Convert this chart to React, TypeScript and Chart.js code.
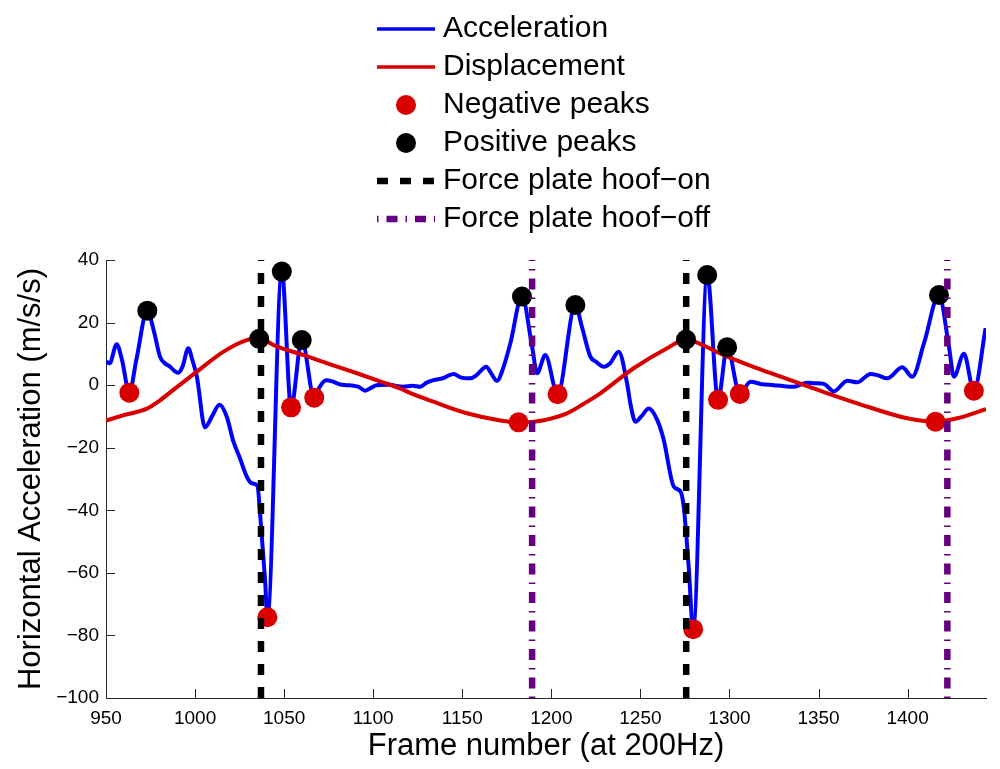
import { useEffect, useRef } from "react";
import { Chart, registerables } from "chart.js";
Chart.register(...registerables);

// frame range and acceleration range of the axes
const xLimits = [950, 1444];
const yLimits = [-100, 40];

// horizontal acceleration (m/s/s)
const accFrames = [
  950, 952, 956, 959, 963.1, 967, 973.2, 977, 980.3, 983, 986, 988.5, 990.6, 993, 996.2,
  998.5, 1001, 1005.6, 1009.5, 1013.7, 1017.8, 1021.5, 1025.3, 1029, 1031.9, 1035, 1036.5,
  1039.3, 1040.6, 1048.7, 1053.9, 1059.9, 1066.9, 1070, 1073.5, 1077, 1081.5, 1085, 1089,
  1092, 1095.5, 1099, 1102, 1109.6, 1113, 1117, 1122, 1126.4, 1130, 1133.9, 1139, 1145.1,
  1149, 1154.5, 1158, 1163.5, 1166, 1169.5, 1173, 1177, 1183.5, 1189.2, 1192, 1196.6,
  1203.5, 1213.5, 1217, 1221.9, 1225, 1229.4, 1233, 1237.8, 1242.5, 1244.4, 1247.2, 1250.5,
  1254.7, 1259.4, 1263.1, 1268.7, 1272.5, 1274.3, 1277.1, 1279.6, 1287.5, 1293.6, 1298.7,
  1305.8, 1311.8, 1318, 1324.9, 1330, 1336.1, 1343.6, 1348, 1353, 1358.6, 1366.1, 1371.7,
  1379.2, 1383, 1388.6, 1397, 1402.6, 1409.2, 1417.6, 1423.2, 1426, 1431.6, 1437.2, 1443.8,
];
const accValues = [
  7.5, 7, 13.1, 8, -2.4, 8, 23.8, 17, 9.1, 7, 5.9, 4.5, 4, 6, 11.8,
  8, 2.7, -13.5, -10, -6.3, -10.1, -18, -23.5, -29.2, -31.4, -32.2, -41,
  -62.3, -74.2, 36.3, -7.1, 14.4, -4, -0.5, 1.6, 1.2, 0.2, 0, -0.2,
  -0.6, -1.8, -0.8, 0, 0.1, -0.3, -0.5, -0.2, -0.5, 0.8, 1.6, 2.2, 3.6,
  2.5, 2.2, 3.2, 5.9, 4, 1.4, 5.5, 13.4, 28.3, 12.3, 3.8, 9.6,
  -2.9, 25.6, 19, 9.1, 7.5, 5.9, 7, 10.7, 0.6, -6, -11.7, -10,
  -7.5, -11.1, -17.5, -32.4, -34, -38.8, -58, -78, 35.2, -4.7, 12.1,
  -2.8, 1.1, 0.3, 0, -0.3, -0.5, 0.8, 0.6, 0.4, -2, 1.4, 0.9,
  3.6, 3.2, 2.2, 5.7, 2.7, 13.4, 28.8, 12.3, 2.7, 10, -1.8, 18.2,
];

// hoof displacement trace
const dispFrames = [
  950, 960, 973, 980, 987.8, 1001, 1016, 1029, 1036, 1046, 1061, 1075, 1090.9, 1105, 1115,
  1120, 1133.9, 1152.6, 1171.3, 1181.6, 1190, 1208.8, 1218, 1227.5, 1246.2, 1265, 1275.6,
  1278, 1296.8, 1315, 1334.3, 1352, 1371.7, 1399.8, 1415.7, 1427.9, 1444,
];
const dispValues = [
  -11.3, -9.6, -7.5, -5, -1.5, 4.3, 10.7, 14.4, 14.8, 12.3, 9.6, 6.8, 3.8, 1, -1,
  -2.3, -5.3, -9, -11.3, -11.9, -11.7, -9, -6, -2.6, 5.4, 11.8, 14.6,
  14.4, 9.6, 5.5, 1.6, -2, -5.8, -10.6, -11.7, -10.6, -7.7,
];

// detected peaks
const negPeakFrames = [963.1, 1040.6, 1053.9, 1066.9, 1181.6, 1203.5, 1279.6, 1293.6, 1305.8, 1415.7, 1437.2];
const negPeakValues = [-2.4, -74.2, -7.1, -4, -11.9, -2.9, -78, -4.7, -2.8, -11.7, -1.8];
const posPeakFrames = [973.2, 1036, 1048.7, 1059.9, 1183.5, 1213.5, 1275.6, 1287.5, 1298.7, 1417.6];
const posPeakValues = [23.8, 14.8, 36.3, 14.4, 28.3, 25.6, 14.6, 35.2, 12.1, 28.8];

// force plate events
const hoofOnFrames = [1037, 1275.7];
const hoofOffFrames = [1189.2, 1422.3];

const FONT = "'Liberation Sans', Arial, Helvetica, sans-serif";
const AXIS_COLOR = "#262626";

const toPoints = (xs: number[], ys: number[]) => xs.map((x, i) => ({ x, y: ys[i] }));

// one vertical line per event, split with a null so they are not joined
const vLines = (frames: number[]) =>
  frames.flatMap((f) => [
    { x: f, y: yLimits[0] },
    { x: f, y: yLimits[1] },
    { x: f, y: null },
  ]);

const inwardTicks = {
  id: "inwardTicks",
  afterDraw(chart: any) {
    const { ctx, chartArea } = chart;
    const xs = chart.scales.x;
    const ys = chart.scales.y;
    ctx.save();
    ctx.strokeStyle = AXIS_COLOR;
    ctx.lineWidth = 1;
    ctx.setLineDash([]);
    ctx.beginPath();
    xs.ticks.forEach((t: any) => {
      const px = Math.round(xs.getPixelForValue(t.value)) + 0.5;
      ctx.moveTo(px, chartArea.bottom);
      ctx.lineTo(px, chartArea.bottom - 9);
    });
    ys.ticks.forEach((t: any) => {
      const py = Math.round(ys.getPixelForValue(t.value)) + 0.5;
      ctx.moveTo(chartArea.left, py);
      ctx.lineTo(chartArea.left + 9, py);
    });
    ctx.stroke();
    ctx.restore();
  },
};

// MATLAB style legend: one entry per row, centred above the axes
const stackedLegend = {
  id: "stackedLegend",
  afterDraw(chart: any) {
    const ctx = chart.ctx;
    const sampleLeft = 377;
    const sampleRight = 435;
    const textLeft = 443;
    ctx.save();
    ctx.font = `30px ${FONT}`;
    ctx.textBaseline = "middle";
    ctx.textAlign = "left";
    chart.data.datasets.forEach((ds: any, i: number) => {
      const y = 29 + i * 38;
      if (ds.showLine === false) {
        ctx.beginPath();
        ctx.fillStyle = ds.pointBackgroundColor;
        ctx.arc((sampleLeft + sampleRight) / 2, y, ds.pointRadius, 0, Math.PI * 2);
        ctx.fill();
      } else {
        ctx.beginPath();
        ctx.setLineDash(ds.borderDash || []);
        ctx.lineCap = "butt";
        ctx.lineWidth = Math.min(ds.borderWidth, 3.5) + (ds.borderDash ? 3 : 0);
        ctx.strokeStyle = ds.borderColor;
        ctx.moveTo(sampleLeft, y);
        ctx.lineTo(sampleRight, y);
        ctx.stroke();
        ctx.setLineDash([]);
      }
      ctx.fillStyle = "#000";
      ctx.fillText(ds.label, textLeft, y);
    });
    ctx.restore();
  },
};

const minus = (v: number) => (v < 0 ? "\u2212" + Math.abs(v) : String(v));

const App = () => {
  const canvasRef = useRef<HTMLCanvasElement>(null);
  const chartRef = useRef<Chart | null>(null);

  useEffect(() => {
    if (chartRef.current) {
      chartRef.current.destroy();
    }
    if (!canvasRef.current) return;
    const ctx = canvasRef.current.getContext("2d");
    if (!ctx) return;

    Chart.defaults.font.family = FONT;
    Chart.defaults.color = "#000";

    chartRef.current = new Chart(ctx, {
      type: "line",
      data: {
        datasets: [
          {
            label: "Acceleration",
            data: toPoints(accFrames, accValues),
            borderColor: "#0000ff",
            borderWidth: 4,
            pointRadius: 0,
            cubicInterpolationMode: "monotone",
            order: 6,
          },
          {
            label: "Displacement",
            data: toPoints(dispFrames, dispValues),
            borderColor: "#d90000",
            borderWidth: 4,
            pointRadius: 0,
            cubicInterpolationMode: "monotone",
            order: 5,
          },
          {
            label: "Negative peaks",
            data: toPoints(negPeakFrames, negPeakValues),
            showLine: false,
            pointRadius: 10,
            pointBorderWidth: 0,
            pointBackgroundColor: "#d90000",
            borderColor: "#d90000",
            order: 4,
          },
          {
            label: "Positive peaks",
            data: toPoints(posPeakFrames, posPeakValues),
            showLine: false,
            pointRadius: 10,
            pointBorderWidth: 0,
            pointBackgroundColor: "#000000",
            borderColor: "#000000",
            order: 3,
          },
          {
            label: "Force plate hoof\u2212on",
            data: vLines(hoofOnFrames),
            borderColor: "#000000",
            borderWidth: 6.5,
            borderDash: [11, 12],
            borderCapStyle: "butt",
            pointRadius: 0,
            tension: 0,
            spanGaps: false,
            order: 2,
          },
          {
            label: "Force plate hoof\u2212off",
            data: vLines(hoofOffFrames),
            borderColor: "#660080",
            borderWidth: 6.5,
            borderDash: [1.5, 8, 11, 8],
            borderCapStyle: "butt",
            pointRadius: 0,
            tension: 0,
            spanGaps: false,
            order: 1,
          },
        ] as any,
      },
      options: {
        responsive: false,
        animation: false,
        events: [],
        layout: { padding: { top: 260, right: 14, left: 0, bottom: 0 } },
        plugins: {
          legend: { display: false },
          tooltip: { enabled: false },
        },
        scales: {
          x: {
            type: "linear",
            min: xLimits[0],
            max: xLimits[1],
            afterFit: (scale: any) => {
              scale.height = 71;
            },
            grid: { display: false, drawTicks: false },
            border: { display: true, color: AXIS_COLOR, width: 1 },
            ticks: {
              stepSize: 50,
              includeBounds: false,
              padding: 9,
              font: { size: 19 },
              color: "#000",
              maxRotation: 0,
              callback: (v: any) => String(v),
            },
            title: {
              display: true,
              text: "Frame number (at 200Hz)",
              font: { size: 31 },
              color: "#000",
              padding: { top: 0, bottom: 4 },
            },
          },
          y: {
            type: "linear",
            min: yLimits[0],
            max: yLimits[1],
            afterFit: (scale: any) => {
              scale.width = 106;
            },
            grid: { display: false, drawTicks: false },
            border: { display: true, color: AXIS_COLOR, width: 1 },
            ticks: {
              stepSize: 20,
              padding: 7,
              font: { size: 19 },
              color: "#000",
              callback: (v: any) => minus(Number(v)),
            },
            title: {
              display: true,
              text: "Horizontal Acceleration (m/s/s)",
              font: { size: 31 },
              color: "#000",
              padding: { top: 13, bottom: 0 },
            },
          },
        },
      },
      plugins: [inwardTicks, stackedLegend],
    });

    return () => {
      if (chartRef.current) {
        chartRef.current.destroy();
        chartRef.current = null;
      }
    };
  }, []);

  return (
    <div style={{ position: "absolute", left: 0, top: 0, width: 1000, height: 769, background: "#fff" }}>
      <canvas ref={canvasRef} width={1000} height={769} style={{ width: 1000, height: 769 }} />
    </div>
  );
};

export default App;
